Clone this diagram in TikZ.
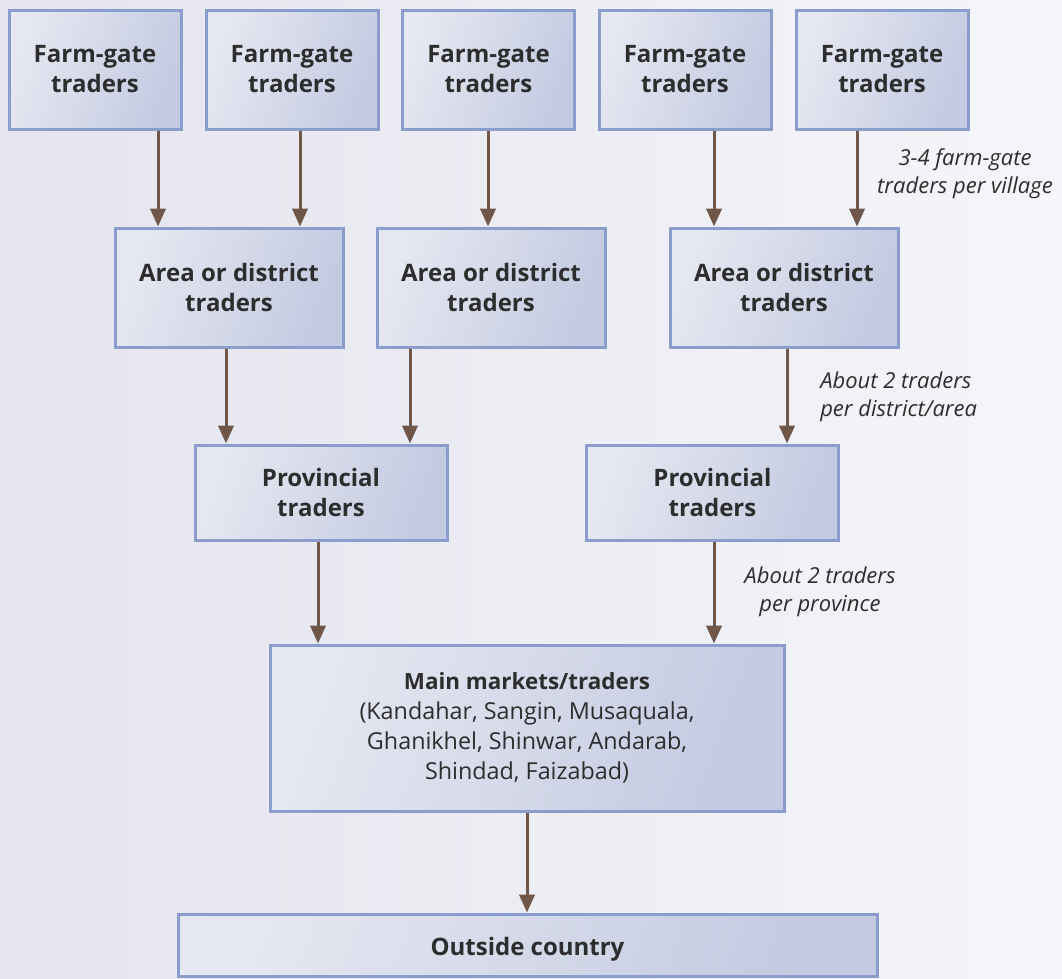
\documentclass[tikz,border=0pt]{standalone}
\usepackage{fontspec}
\setmainfont{Open Sans}
\usetikzlibrary{arrows.meta}
\definecolor{bgL}{RGB}{228,229,237}
\definecolor{bgR}{RGB}{245,246,250}
\definecolor{boxL}{RGB}{230,232,241}
\definecolor{boxR}{RGB}{195,202,225}
\definecolor{boxborder}{RGB}{138,157,204}
\definecolor{arrowc}{RGB}{110,86,73}
\definecolor{txt}{RGB}{45,45,45}
\tikzset{
  box/.style={draw=boxborder, line width=2.25pt, left color=boxL, right color=boxR,
    shading angle=70, align=center, text=txt, inner sep=0pt,
    font=\fontsize{18}{22.5}\selectfont\bfseries},
  fgbox/.style={box, minimum width=129pt, minimum height=89.25pt},
  areabox/.style={box, minimum width=171pt, minimum height=89.25pt},
  provbox/.style={box, minimum width=189pt, minimum height=71.25pt},
  mainbox/.style={box, minimum width=385.5pt, minimum height=124.5pt,
    font=\fontsize{16.8}{22.5}\selectfont\bfseries},
  outbox/.style={box, minimum width=524.25pt, minimum height=46.5pt,
    text height=18pt, text depth=2pt},
  arr/.style={draw=arrowc, line width=2.25pt, -{Triangle[width=11.5pt,length=13.5pt]}},
  lbl/.style={text=txt, font=\fontsize{16.5}{21}\selectfont\itshape, inner sep=0pt}
}
\newcommand{\plainline}{\fontsize{17.5}{22.5}\selectfont\mdseries}
\begin{document}
\begin{tikzpicture}[x=0.75pt,y=-0.75pt]
\shade[left color=bgL, right color=bgR] (0,0) rectangle (1062,978);
\useasboundingbox (0,0) rectangle (1062,978);
% farm-gate traders
\node[fgbox] (fg1) at (95,69.5) {Farm-gate\\traders};
\node[fgbox] (fg2) at (292,69.5) {Farm-gate\\traders};
\node[fgbox] (fg3) at (488.5,69.5) {Farm-gate\\traders};
\node[fgbox] (fg4) at (685,69.5) {Farm-gate\\traders};
\node[fgbox] (fg5) at (882,69.5) {Farm-gate\\traders};
% area
\node[areabox] (ar1) at (229,287.5) {Area or district\\traders};
\node[areabox] (ar2) at (491,287.5) {Area or district\\traders};
\node[areabox] (ar3) at (784,287.5) {Area or district\\traders};
% provincial
\node[provbox] (pr1) at (321,492.5) {Provincial\\traders};
\node[provbox] (pr2) at (712.5,492.5) {Provincial\\traders};
% main
\node[mainbox] (main) at (527,728) {Main markets/traders\\\plainline(Kandahar, Sangin, Musaquala,\\\plainline Ghanikhel, Shinwar, Andarab,\\\plainline Shindad, Faizabad)};
% outside
\node[outbox] (out) at (527.5,945) {Outside country};
% arrows
\draw[arr] (fg1.south -| 158,0) -- (ar1.north -| 158,0);
\draw[arr] (fg2.south -| 300,0) -- (ar1.north -| 300,0);
\draw[arr] (fg3.south -| 488,0) -- (ar2.north -| 488,0);
\draw[arr] (fg4.south -| 714,0) -- (ar3.north -| 714,0);
\draw[arr] (fg5.south -| 857,0) -- (ar3.north -| 857,0);
\draw[arr] (ar1.south -| 226,0) -- (pr1.north -| 226,0);
\draw[arr] (ar2.south -| 410,0) -- (pr1.north -| 410,0);
\draw[arr] (ar3.south -| 787,0) -- (pr2.north -| 787,0);
\draw[arr] (pr1.south -| 318,0) -- (main.north -| 318,0);
\draw[arr] (pr2.south -| 714,0) -- (main.north -| 714,0);
\draw[arr] (main.south -| 527,0) -- (out.north -| 527,0);
% labels
\node[lbl, align=center] (l1) at (965,174) {3-4 farm-gate\\traders per village};
\node[lbl, align=left, anchor=west] (l2) at (820,397) {About 2 traders\\per district/area};
\node[lbl, align=center] (l3) at (820,592) {About 2 traders\\per province};
\end{tikzpicture}
\end{document}
